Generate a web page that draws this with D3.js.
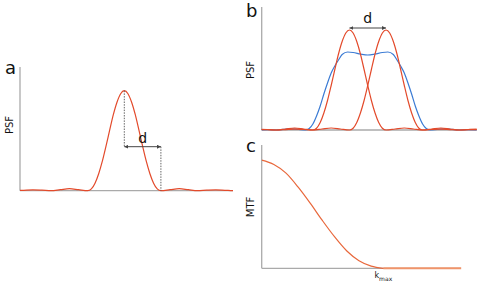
<!DOCTYPE html>
<html>
<head>
<meta charset="utf-8">
<script src="https://cdn.jsdelivr.net/npm/d3@7"></script>
<style>
  body { margin: 0; background: #fff; }
  svg { display: block; }
  text { font-family: "DejaVu Sans", sans-serif; fill: #111; }
</style>
</head>
<body>
<svg id="chart" width="489" height="284"></svg>
<script>
// ---- data (x in units of d, y relative to the PSF peak) ----
const psfX = [-3.5, -3.25, -3, -2.75, -2.5, -2.25, -2, -1.75, -1.5, -1.25, -1, -0.9, -0.8, -0.7, -0.6, -0.5, -0.4, -0.3, -0.2, -0.1, 0,
              0.1, 0.2, 0.3, 0.4, 0.5, 0.6, 0.7, 0.8, 0.9, 1, 1.25, 1.5, 1.75, 2, 2.25, 2.5, 2.75, 3, 3.25, 3.5];
const psfY = [0.004, 0.003, 0, 0.004, 0.008, 0.005, 0, 0.01, 0.02, 0.01, 0, 0.018, 0.075, 0.17, 0.295, 0.445, 0.605, 0.76, 0.885, 0.97, 1,
              0.97, 0.885, 0.76, 0.605, 0.445, 0.295, 0.17, 0.075, 0.018, 0, 0.01, 0.02, 0.01, 0, 0.005, 0.008, 0.004, 0, 0.003, 0.004];

// two point sources in panel b, separated by d
const sourceCentres = [-0.5, 0.5];

// blurred image of the two sources (blue)
const blurX = [-3, -2.7, -2.5, -2.3, -2.1, -1.9, -1.7, -1.6, -1.5, -1.4, -1.3, -1.2, -1.1, -1, -0.9, -0.8, -0.7, -0.55, -0.4, -0.2, 0,
               0.2, 0.4, 0.55, 0.7, 0.8, 0.9, 1, 1.1, 1.2, 1.3, 1.4, 1.5, 1.6, 1.7, 1.9, 2.1, 2.3, 2.5, 2.7, 3];
const blurY = [0, 0.003, 0, 0.006, 0.012, 0.006, 0, 0.015, 0.06, 0.14, 0.24, 0.36, 0.47, 0.57, 0.64, 0.70, 0.755, 0.78, 0.775, 0.76, 0.75,
               0.76, 0.775, 0.78, 0.755, 0.70, 0.64, 0.57, 0.47, 0.36, 0.24, 0.14, 0.06, 0.015, 0, 0.006, 0.012, 0.006, 0, 0.003, 0];

// MTF, frequency in units of k_max
const mtfK = [0, 0.1, 0.2, 0.3, 0.4, 0.5, 0.6, 0.7, 0.8, 0.9, 1];
const mtfV = [1, 0.96, 0.88, 0.75, 0.6, 0.44, 0.29, 0.16, 0.07, 0.02, 0];
const mtfTailK = [1, 1.64];
const mtfTailV = [0, 0];

const red = "#e34a2b", blue = "#3b7bd4", orange = "#e8683c", axisCol = "#aaaaaa";

const svg = d3.select("#chart");

// arrow marker for the d dimension
const defs = svg.append("defs");
["start", "end"].forEach(k => {
  defs.append("marker")
    .attr("id", "arr-" + k)
    .attr("viewBox", "0 0 6 6").attr("refX", k == "end" ? 6 : 0).attr("refY", 3)
    .attr("markerWidth", 4).attr("markerHeight", 4).attr("orient", "auto")
    .append("path")
    .attr("d", k == "end" ? "M0,0L6,3L0,6Z" : "M6,0L0,3L6,6Z")
    .attr("fill", "#444");
});

function panel(box, xDom, yDom) {
  const x = d3.scaleLinear().domain(xDom).range([box.left, box.right]);
  const y = d3.scaleLinear().domain(yDom).range([box.bottom, box.top]);
  const g = svg.append("g");
  g.append("line").attr("x1", box.left).attr("x2", box.left)
    .attr("y1", box.top).attr("y2", box.bottom)
    .attr("stroke", axisCol).attr("stroke-width", 1.3);
  g.append("line").attr("x1", box.left).attr("x2", box.right)
    .attr("y1", box.bottom).attr("y2", box.bottom)
    .attr("stroke", axisCol).attr("stroke-width", 1.3);
  return { x, y, g };
}

function curve(p, xs, ys, col, w, shift) {
  const pts = xs.map((v, i) => [v + (shift || 0), ys[i]])
    .filter(d => d[0] >= p.x.domain()[0] - 0.3 && d[0] <= p.x.domain()[1] + 0.3);
  const line = d3.line().x(d => p.x(d[0])).y(d => p.y(d[1])).curve(d3.curveMonotoneX);
  const clipId = "clip" + Math.random().toString(36).slice(2);
  svg.append("clipPath").attr("id", clipId).append("rect")
    .attr("x", p.x.range()[0]).attr("y", 0)
    .attr("width", p.x.range()[1] - p.x.range()[0]).attr("height", 284);
  p.g.append("path").datum(pts).attr("d", line)
    .attr("clip-path", "url(#" + clipId + ")")
    .attr("fill", "none").attr("stroke", col).attr("stroke-width", w);
}

function labels(letter, lx, ly, axisText, ax, ay) {
  svg.append("text").attr("x", lx).attr("y", ly).attr("font-size", 18).text(letter);
  svg.append("text").attr("transform", `translate(${ax},${ay}) rotate(-90)`)
    .attr("text-anchor", "middle").attr("font-size", 10).text(axisText);
}

// ---- panel a ----
const pa = panel({ left: 20, right: 233, top: 67, bottom: 190.7 }, [-2.85, 2.97], [0, 1.237]);
curve(pa, psfX, psfY, red, 1.2);
const dimY = 0.44;
function dottedLine(x1, y1, x2, y2) {
  pa.g.append("line").attr("x1", x1).attr("x2", x2).attr("y1", y1).attr("y2", y2)
    .attr("stroke", "#555").attr("stroke-width", 0.9).attr("stroke-dasharray", "1.5,1.2");
}
dottedLine(pa.x(0), pa.y(1), pa.x(0), pa.y(dimY));
dottedLine(pa.x(1), pa.y(dimY), pa.x(1), pa.y(0));
pa.g.append("line").attr("x1", pa.x(0)).attr("x2", pa.x(1)).attr("y1", pa.y(dimY)).attr("y2", pa.y(dimY))
  .attr("stroke", "#444").attr("stroke-width", 1)
  .attr("marker-start", "url(#arr-start)").attr("marker-end", "url(#arr-end)");
svg.append("text").attr("x", pa.x(0.5)).attr("y", pa.y(dimY) - 4).attr("text-anchor", "middle")
  .attr("font-size", 14).text("d");
labels("a", 5, 74, "PSF", 13, 125);

// ---- panel b ----
const pb = panel({ left: 261.7, right: 476.7, top: 7, bottom: 130 }, [-2.9, 2.98], [0, 1.23]);
curve(pb, blurX, blurY, blue, 1.2);
sourceCentres.forEach(c => curve(pb, psfX, psfY, red, 1.2, c));
const dimYb = 1.02;
pb.g.append("line").attr("x1", pb.x(sourceCentres[0])).attr("x2", pb.x(sourceCentres[1]))
  .attr("y1", pb.y(dimYb)).attr("y2", pb.y(dimYb))
  .attr("stroke", "#444").attr("stroke-width", 1)
  .attr("marker-start", "url(#arr-start)").attr("marker-end", "url(#arr-end)");
svg.append("text").attr("x", pb.x(0)).attr("y", pb.y(dimYb) - 5).attr("text-anchor", "middle")
  .attr("font-size", 14).text("d");
labels("b", 246, 17, "PSF", 254, 70);

// ---- panel c ----
const pc = panel({ left: 261.7, right: 460.7, top: 145, bottom: 268.3 }, [0, 1.636], [0, 1.14]);
pc.g.append("path").datum(mtfTailK.map((k, i) => [k, mtfTailV[i]]))
  .attr("d", d3.line().x(d => pc.x(d[0])).y(d => pc.y(d[1])))
  .attr("fill", "none").attr("stroke", "#f0946a").attr("stroke-width", 2);
curve(pc, mtfK, mtfV, orange, 1.2);
const kt = svg.append("text").attr("x", pc.x(1)).attr("y", 278).attr("text-anchor", "middle").attr("font-size", 8);
kt.append("tspan").text("k");
kt.append("tspan").attr("dy", 3).attr("font-size", 6).text("max");
labels("c", 246, 152, "MTF", 254, 207);
</script>
</body>
</html>
